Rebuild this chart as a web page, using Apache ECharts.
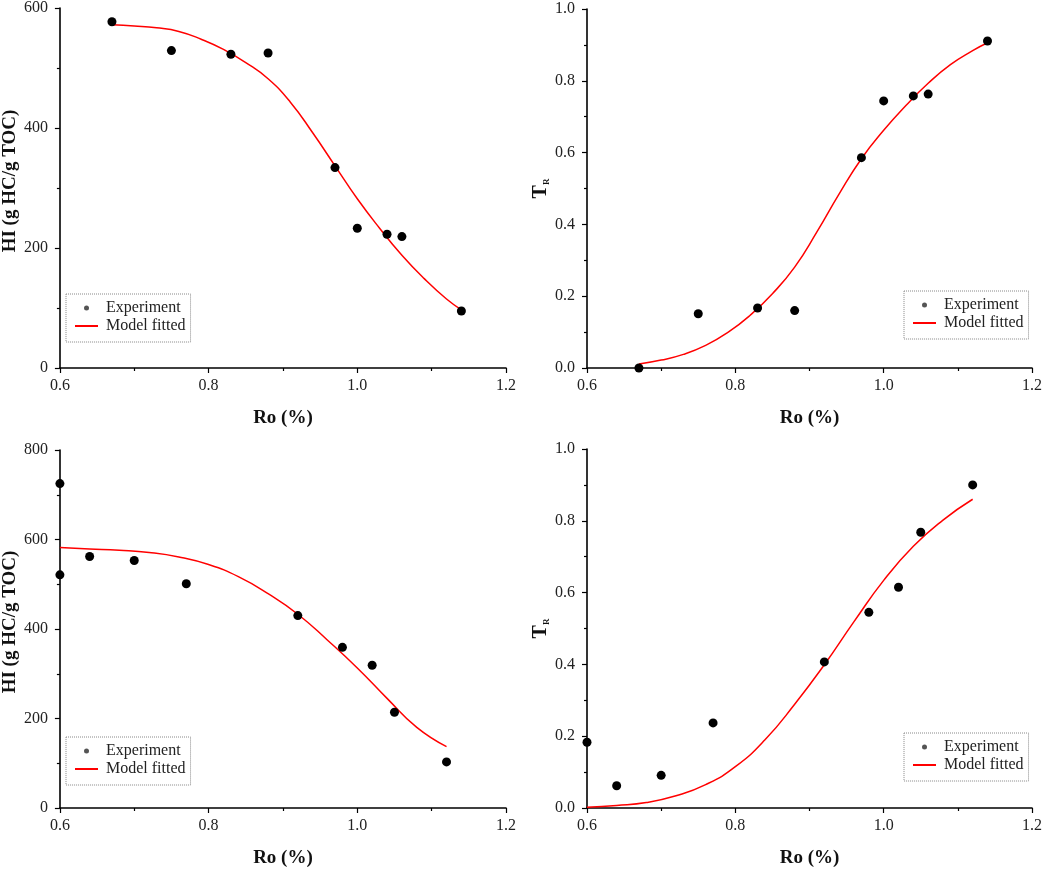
<!DOCTYPE html>
<html>
<head>
<meta charset="utf-8">
<script src="https://cdn.jsdelivr.net/npm/echarts@6/dist/echarts.min.js"></script>
<style>
html, body { margin: 0; padding: 0; background: #fff; }
#chart { width: 1045px; height: 869px; }
</style>
</head>
<body>
<div id="chart"></div>
<script>
// ---- panel 1 / 2 : first sample set ----
var ro1 = [0.67, 0.75, 0.83, 0.88, 0.97, 1.00, 1.04, 1.06, 1.14];
var hi1 = [577, 529, 523, 525, 334, 233, 223, 219, 95];
var tr1 = [0, 0.151, 0.167, 0.160, 0.586, 0.744, 0.758, 0.763, 0.911];

// fitted curves
var fitRo1 = [0.67, 0.70, 0.73, 0.76, 0.79, 0.82, 0.85, 0.88, 0.91, 0.94, 0.97, 1.00, 1.03, 1.06, 1.09, 1.12, 1.14];
var fitHi1 = [572, 570, 567, 561, 548, 531, 509, 482, 443, 392, 337, 282, 233, 188, 149, 115, 97];
var fitTr1 = [0.011, 0.022, 0.038, 0.063, 0.099, 0.147, 0.207, 0.281, 0.379, 0.485, 0.583, 0.662, 0.731, 0.793, 0.845, 0.884, 0.906];

// ---- panel 3 / 4 : second sample set ----
var roHi2 = [0.60, 0.60, 0.64, 0.70, 0.77, 0.92, 0.98, 1.02, 1.05, 1.12];
var hi2 = [725, 521, 562, 553, 501, 430, 359, 319, 214, 103];
var roTr2 = [0.60, 0.64, 0.70, 0.77, 0.92, 0.98, 1.02, 1.05, 1.12];
var tr2 = [0.183, 0.062, 0.091, 0.237, 0.407, 0.545, 0.615, 0.768, 0.900];

var fitRo2 = [0.60, 0.64, 0.68, 0.72, 0.76, 0.80, 0.84, 0.88, 0.92, 0.96, 1.00, 1.04, 1.08, 1.12];
var fitHi2 = [582, 579, 576, 571, 561, 544, 517, 479, 433, 375, 313, 245, 180, 137];
var fitTr2 = [0.002, 0.007, 0.015, 0.034, 0.065, 0.115, 0.190, 0.289, 0.399, 0.519, 0.634, 0.729, 0.802, 0.860];

// axis ticks
var roTicks = { min: 0.6, max: 1.2, interval: 0.2 };
var hiTicks1 = { min: 0, max: 600, interval: 200 };
var hiTicks2 = { min: 0, max: 800, interval: 200 };
var trTicks = { min: 0, max: 1, interval: 0.2 };

var SERIF = '"Liberation Serif", "Times New Roman", serif';

function pairs(xs, ys) {
	var out = [];
	for (var i = 0; i < xs.length; i++) out.push([xs[i], ys[i]]);
	return out;
}

var panels = [
	{ grid: { left: 56, top: 6, width: 450, height: 362 }, y: hiTicks1, yName: 'HI (g HC/g TOC)', fmt: 0,
		pts: pairs(ro1, hi1), fit: pairs(fitRo1, fitHi1), legend: { left: 66, top: 294 } },
	{ grid: { left: 587, top: 9, width: 447, height: 359 }, y: trTicks, yName: 'TR', fmt: 1,
		pts: pairs(ro1, tr1), fit: pairs(fitRo1, fitTr1), legend: { left: 904, top: 291 } },
	{ grid: { left: 57, top: 450, width: 449, height: 361 }, y: hiTicks2, yName: 'HI (g HC/g TOC)', fmt: 0,
		pts: pairs(roHi2, hi2), fit: pairs(fitRo2, fitHi2), legend: { left: 66, top: 737 } },
	{ grid: { left: 587, top: 449, width: 447, height: 359 }, y: trTicks, yName: 'TR', fmt: 1,
		pts: pairs(roTr2, tr2), fit: pairs(fitRo2, fitTr2), legend: { left: 904, top: 733 } }
];

var axisLine = { lineStyle: { color: '#000', width: 1.6 } };
var labelStyle = { color: '#222', fontFamily: SERIF, fontSize: 16 };

var option = { animation: false, backgroundColor: '#fff', grid: [], xAxis: [], yAxis: [], series: [], legend: [] };

panels.forEach(function (p, i) {
	option.grid.push(p.grid);

	option.xAxis.push({
		type: 'value', gridIndex: i,
		min: roTicks.min, max: roTicks.max, interval: roTicks.interval,
		name: 'Ro (%)', nameLocation: 'middle', nameGap: 41,
		nameTextStyle: { fontFamily: SERIF, fontWeight: 'bold', fontSize: 19, color: '#111' },
		axisLine: axisLine,
		axisTick: { length: 5, lineStyle: { color: '#000', width: 1.2 } },
		minorTick: { show: true, splitNumber: 2, length: 3, lineStyle: { color: '#000', width: 1.2 } },
		splitLine: { show: false },
		axisLabel: Object.assign({ margin: 10, formatter: function (v) { return v.toFixed(1); } }, labelStyle)
	});

	var tr = p.yName === 'TR';
	option.yAxis.push({
		type: 'value', gridIndex: i,
		min: p.y.min, max: p.y.max, interval: p.y.interval,
		name: tr ? '{t|T}{r|R}' : p.yName,
		nameLocation: 'middle', nameRotate: 90, nameGap: tr ? 32 : 38,
		nameTextStyle: {
			fontFamily: SERIF, fontWeight: 'bold', fontSize: 19, color: '#111',
			padding: tr ? 0 : [0, 0, 0, 14],
			rich: {
				t: { fontFamily: SERIF, fontWeight: 'bold', fontSize: 20, color: '#111', lineHeight: 20 },
				r: { fontFamily: SERIF, fontWeight: 'bold', fontSize: 9, color: '#111', verticalAlign: 'bottom', lineHeight: 9 }
			}
		},
		axisLine: axisLine,
		axisTick: { length: 5, lineStyle: { color: '#000', width: 1.2 } },
		minorTick: { show: true, splitNumber: 2, length: 3, lineStyle: { color: '#000', width: 1.2 } },
		splitLine: { show: false },
		axisLabel: Object.assign({ margin: 12, formatter: function (v) { return v.toFixed(p.fmt); } }, labelStyle)
	});

	option.series.push({
		name: 'Model fitted', type: 'line', xAxisIndex: i, yAxisIndex: i,
		data: p.fit, symbol: 'none', smooth: 0.5, clip: false, z: 2,
		lineStyle: { color: '#ff0000', width: 1.5 }, itemStyle: { color: '#ff0000' }
	});
	option.series.push({
		name: 'Experiment', type: 'scatter', xAxisIndex: i, yAxisIndex: i,
		data: p.pts, symbolSize: 9, clip: false, z: 3,
		itemStyle: { color: '#000', opacity: 1 }
	});

	option.legend.push({
		orient: 'vertical', left: p.legend.left, top: p.legend.top,
		data: [
			{ name: 'Experiment', icon: 'circle', itemStyle: { color: '#555', opacity: 1 } },
			{ name: 'Model fitted', itemStyle: { opacity: 0 } }
		],
		selectedMode: false,
		itemWidth: 23, itemHeight: 5, itemGap: 2,
		padding: [6, 5, 8, 8],
		borderColor: '#888', borderWidth: 1, borderType: 'dotted',
		textStyle: { fontFamily: SERIF, fontSize: 16, color: '#222', padding: [0, 0, 0, 3] }
	});
});

var myChart = echarts.init(document.getElementById('chart'));
myChart.setOption(option);
</script>
</body>
</html>
